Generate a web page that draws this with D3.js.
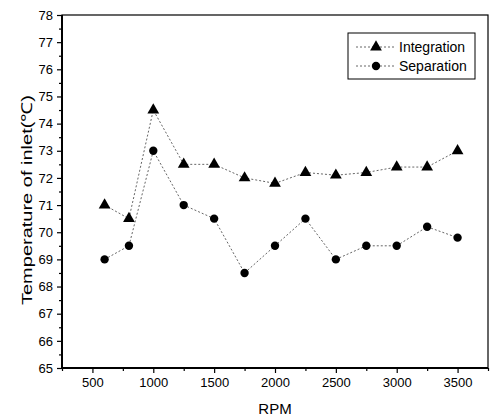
<!DOCTYPE html>
<html>
<head>
<meta charset="utf-8">
<script src="https://cdn.jsdelivr.net/npm/d3@7"></script>
<style>
  body { margin: 0; background: #fff; }
  svg { font-family: "Liberation Sans", Arial, sans-serif; }
</style>
</head>
<body>
<svg id="chart" width="492" height="417"></svg>
<script>
const rpm = [600, 800, 1000, 1250, 1500, 1750, 2000, 2250, 2500, 2750, 3000, 3250, 3500];
const integration = [71, 70.5, 74.5, 72.5, 72.5, 72, 71.8, 72.2, 72.1, 72.2, 72.4, 72.4, 73];
const separation = [69, 69.5, 73, 71, 70.5, 68.5, 69.5, 70.5, 69, 69.5, 69.5, 70.2, 69.8];
const xTicks = [500, 1000, 1500, 2000, 2500, 3000, 3500];
const yTicks = d3.range(65, 79, 1);

const margin = { top: 15, right: 4, bottom: 49, left: 62 };
const width = 492 - margin.left - margin.right;
const height = 417 - margin.top - margin.bottom;

const svg = d3.select('#chart');
const g = svg.append('g').attr('transform', `translate(${margin.left},${margin.top})`);

const x = d3.scaleLinear().domain([250, 3750]).range([0, width]);
const y = d3.scaleLinear().domain([65, 78]).range([height, 0]);

// minor ticks
const xMinor = d3.range(250, 3751, 250).filter(v => v % 500 !== 0);
const yMinor = d3.range(65.5, 78, 1);

g.append('g')
  .attr('transform', `translate(0,${height})`)
  .call(d3.axisBottom(x).tickValues(xTicks).tickSize(5).tickPadding(5).tickFormat(d3.format('d')))
  .call(a => a.select('.domain').remove())
  .call(a => a.selectAll('text').attr('font-size', 13).attr('fill', '#000'));
g.append('g')
  .attr('transform', `translate(0,${height})`)
  .call(d3.axisBottom(x).tickValues(xMinor).tickSize(3).tickFormat(''))
  .call(a => a.select('.domain').remove());

g.append('g')
  .call(d3.axisLeft(y).tickValues(yTicks).tickSize(5).tickPadding(4).tickFormat(d3.format('d')))
  .call(a => a.select('.domain').remove())
  .call(a => a.selectAll('text').attr('font-size', 13).attr('fill', '#000'));
g.append('g')
  .call(d3.axisLeft(y).tickValues(yMinor).tickSize(3).tickFormat(''))
  .call(a => a.select('.domain').remove());

g.selectAll('.tick line').attr('stroke', '#000').attr('stroke-width', 1.2);

// frame
g.append('rect')
  .attr('width', width).attr('height', height)
  .attr('fill', 'none').attr('stroke', '#000').attr('stroke-width', 1.2);
g.append('line').attr('x1', 0).attr('x2', 0).attr('y1', 0).attr('y2', height)
  .attr('stroke', '#000').attr('stroke-width', 2);
g.append('line').attr('x1', 0).attr('x2', width).attr('y1', height).attr('y2', height)
  .attr('stroke', '#000').attr('stroke-width', 2);

const line = d3.line().x(d => x(d[0])).y(d => y(d[1]));
const tri = d3.symbol().type(d3.symbolTriangle).size(60);
const dot = d3.symbol().type(d3.symbolCircle).size(55);

const series = [
  { name: 'Integration', values: integration, sym: tri },
  { name: 'Separation', values: separation, sym: dot }
];

series.forEach(s => {
  const pts = rpm.map((r, i) => [r, s.values[i]]);
  g.append('path')
    .datum(pts)
    .attr('d', line)
    .attr('fill', 'none')
    .attr('stroke', '#666')
    .attr('stroke-width', 1)
    .attr('stroke-dasharray', '2,2');
  g.selectAll(null)
    .data(pts)
    .enter()
    .append('path')
    .attr('d', s.sym)
    .attr('transform', d => `translate(${x(d[0])},${y(d[1])})`)
    .attr('fill', '#000');
});

// legend
const lg = svg.append('g').attr('transform', 'translate(348,33)');
lg.append('rect').attr('width', 127).attr('height', 46)
  .attr('fill', '#fff').attr('stroke', '#000').attr('stroke-width', 1);
series.forEach((s, i) => {
  const ly = 14 + i * 19;
  lg.append('line').attr('x1', 8).attr('x2', 48).attr('y1', ly).attr('y2', ly)
    .attr('stroke', '#666').attr('stroke-dasharray', '2,2');
  lg.append('path').attr('d', s.sym).attr('transform', `translate(28,${ly})`).attr('fill', '#000');
  lg.append('text').attr('x', 51).attr('y', ly).attr('dy', '0.35em')
    .attr('font-size', 14).text(s.name);
});

// axis titles
svg.append('text')
  .attr('x', margin.left + x(2000)).attr('y', 414)
  .attr('text-anchor', 'middle').attr('font-size', 15).text('RPM');
svg.append('text')
  .attr('transform', 'translate(32,200) rotate(-90)')
  .attr('text-anchor', 'middle').attr('font-size', 15)
  .attr('textLength', 210).attr('lengthAdjust', 'spacingAndGlyphs')
  .text('Temperature of inlet(℃)');
</script>
</body>
</html>
